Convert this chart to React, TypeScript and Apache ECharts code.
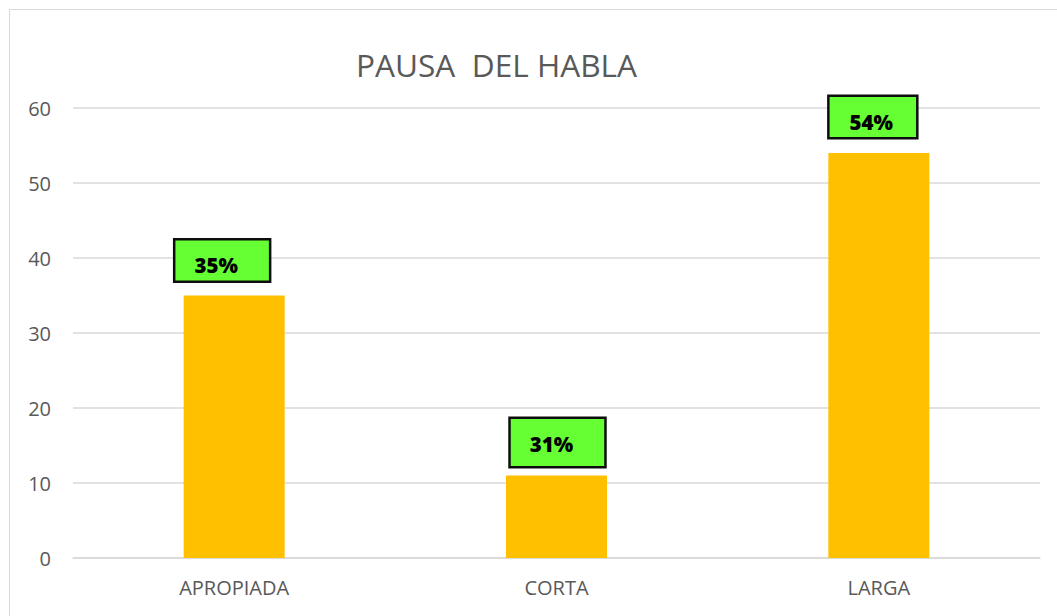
import React, { useEffect, useRef } from "react";
import * as echarts from "echarts";

const categories = ["APROPIADA", "CORTA", "LARGA"];
const values = [35, 11, 54];
const labelTexts = ["35%", "31%", "54%"];
const yTicks = { min: 0, max: 60, interval: 10 };

// label box layout (style only)
const labelLayout = [
  { offset: [-12, 0], distance: 15, padding: [14, 31, 6, 19] },
  { offset: [1, 0], distance: 9.5, padding: [15, 31, 12, 19] },
  { offset: [-6, 0], distance: 16, padding: [15, 23, 5, 20] },
];

export default function App() {
  const ref = useRef<HTMLDivElement>(null);
  useEffect(() => {
    if (!ref.current) return;
    const chart = echarts.init(ref.current, null, { renderer: "svg" });
    const font = "'Open Sans', 'Noto Sans', sans-serif";
    chart.setOption({
      animation: false,
      backgroundColor: "#ffffff",
      title: {
        text: "PAUSA  DEL HABLA",
        left: 356,
        top: 48,
        padding: 0,
        textStyle: { fontFamily: font, fontSize: 31.6, fontWeight: "normal", color: "#595959" },
      },
      graphic: [
        {
          type: "rect",
          shape: { x: 9.5, y: 9.5, width: 1200, height: 800 },
          style: { fill: "none", stroke: "#d9d9d9", lineWidth: 1 },
          silent: true,
        },
      ],
      grid: { left: 73, right: 17, top: 108, bottom: 58, containLabel: false },
      xAxis: {
        type: "category",
        data: categories,
        axisLine: { show: true, lineStyle: { color: "#d9d9d9", width: 1.5 } },
        axisTick: { show: false },
        axisLabel: { fontFamily: font, fontSize: 20, color: "#595959", margin: 19 },
      },
      yAxis: {
        type: "value",
        min: yTicks.min,
        max: yTicks.max,
        interval: yTicks.interval,
        axisLine: { show: false },
        axisTick: { show: false },
        splitLine: { lineStyle: { color: "#d9d9d9", width: 1.5 } },
        axisLabel: { fontFamily: font, fontSize: 20, color: "#595959", margin: 22 },
      },
      series: [
        {
          type: "bar",
          barWidth: 101,
          itemStyle: { color: "#FFC000" },
          data: values.map((v, i) => ({
            value: v,
            label: {
              show: true,
              position: "top",
              formatter: labelTexts[i],
              offset: labelLayout[i].offset,
              distance: labelLayout[i].distance,
              padding: labelLayout[i].padding,
              backgroundColor: "#66FF33",
              borderColor: "#0d0d0d",
              borderWidth: 2.5,
              fontFamily: font,
              fontSize: 20.5,
              fontWeight: 800,
              lineHeight: 20,
              color: "#000000",
            },
          })),
        },
      ],
    });
    return () => chart.dispose();
  }, []);
  return (
    <div
      ref={ref}
      style={{ position: "fixed", left: 0, top: 0, width: 1057, height: 616, background: "#fff" }}
    />
  );
}
